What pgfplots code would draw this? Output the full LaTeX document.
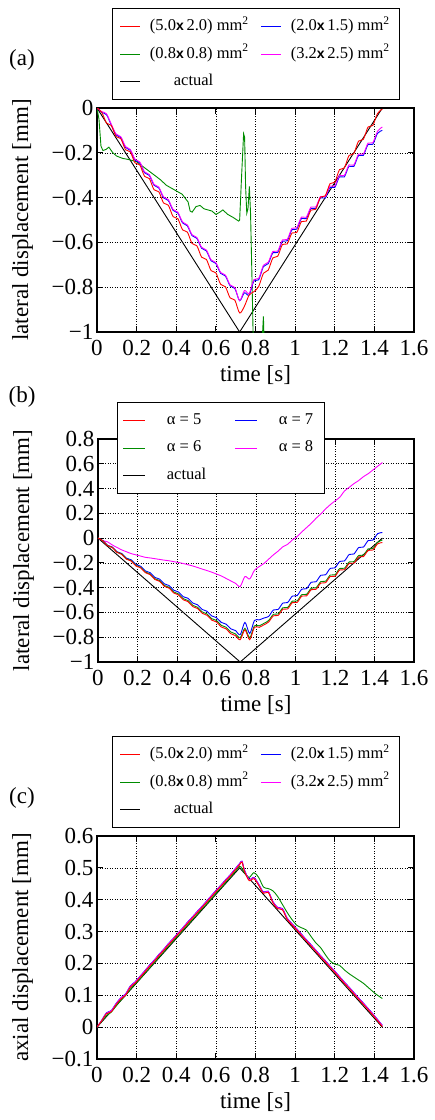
\documentclass[border=0pt]{standalone}
\usepackage{fontspec}
\setmainfont{Liberation Serif}
\newfontfamily\sansx{Liberation Sans}
\usepackage{pgfplots}
\usepackage{pgfplotstable}
\pgfplotsset{compat=1.18}
\definecolor{gpgreen}{RGB}{0,140,0}
\definecolor{gpred}{RGB}{255,0,0}
\definecolor{gpblue}{RGB}{0,0,255}
\definecolor{gpmag}{RGB}{255,0,255}
\newcommand{\tk}{\fontsize{23}{27}\selectfont}
\newcommand{\lgf}{\fontsize{16.5}{19}\selectfont}
\newcommand{\sz}[2]{(#1{\sansx\bfseries\fontsize{14}{16}\selectfont x}\,#2) mm\textsuperscript{2}}

% (a) lateral displacement, mesh sizes
\pgfplotstableread{
t r b m
0 0 0 0
0.024 -0.019 -0.020 -0.016
0.048 -0.067 -0.030 -0.026
0.072 -0.078 -0.076 -0.072
0.096 -0.127 -0.120 -0.116
0.120 -0.137 -0.132 -0.128
0.144 -0.186 -0.176 -0.172
0.168 -0.196 -0.189 -0.185
0.192 -0.245 -0.233 -0.229
0.216 -0.254 -0.245 -0.241
0.240 -0.305 -0.289 -0.285
0.264 -0.315 -0.301 -0.297
0.288 -0.365 -0.345 -0.341
0.312 -0.374 -0.357 -0.353
0.336 -0.424 -0.401 -0.397
0.360 -0.434 -0.413 -0.409
0.384 -0.485 -0.457 -0.453
0.408 -0.494 -0.469 -0.465
0.432 -0.544 -0.513 -0.509
0.456 -0.554 -0.526 -0.522
0.480 -0.605 -0.570 -0.566
0.504 -0.615 -0.582 -0.578
0.528 -0.666 -0.626 -0.622
0.552 -0.676 -0.638 -0.634
0.576 -0.726 -0.682 -0.678
0.600 -0.736 -0.694 -0.690
0.624 -0.787 -0.738 -0.734
0.648 -0.798 -0.750 -0.746
0.672 -0.848 -0.794 -0.790
0.696 -0.858 -0.806 -0.802
0.720 -0.915 -0.860 -0.860
0.744 -0.885 -0.825 -0.815
0.768 -0.835 -0.835 -0.828
0.792 -0.820 -0.772 -0.766
0.816 -0.797 -0.767 -0.761
0.840 -0.738 -0.708 -0.702
0.864 -0.724 -0.695 -0.689
0.888 -0.669 -0.646 -0.640
0.912 -0.662 -0.645 -0.639
0.936 -0.609 -0.595 -0.589
0.960 -0.607 -0.593 -0.587
0.984 -0.558 -0.543 -0.537
1.008 -0.556 -0.541 -0.535
1.032 -0.507 -0.493 -0.487
1.056 -0.505 -0.494 -0.488
1.080 -0.456 -0.448 -0.442
1.104 -0.452 -0.448 -0.442
1.128 -0.398 -0.401 -0.395
1.152 -0.392 -0.402 -0.396
1.176 -0.338 -0.354 -0.348
1.200 -0.331 -0.355 -0.349
1.224 -0.275 -0.307 -0.301
1.248 -0.268 -0.308 -0.302
1.272 -0.212 -0.260 -0.254
1.296 -0.204 -0.261 -0.255
1.320 -0.148 -0.212 -0.206
1.344 -0.140 -0.212 -0.206
1.368 -0.085 -0.163 -0.157
1.392 -0.078 -0.162 -0.155
1.416 -0.024 -0.113 -0.104
1.440 -0.005 -0.100 -0.085
}\tabA

\pgfplotstableread{
t g
0 0
0.010 -0.050
0.020 -0.170
0.030 -0.190
0.045 -0.185
0.060 -0.175
0.080 -0.200
0.100 -0.215
0.130 -0.225
0.160 -0.230
0.200 -0.240
0.230 -0.260
0.260 -0.280
0.290 -0.300
0.320 -0.320
0.350 -0.345
0.380 -0.360
0.400 -0.370
0.430 -0.385
0.460 -0.420
0.470 -0.460
0.480 -0.465
0.500 -0.440
0.520 -0.435
0.540 -0.450
0.560 -0.455
0.580 -0.460
0.600 -0.475
0.620 -0.465
0.635 -0.455
0.660 -0.475
0.690 -0.490
0.715 -0.505
0.720 -0.500
0.730 -0.300
0.740 -0.115
0.745 -0.130
0.750 -0.350
0.756 -0.470
0.762 -0.450
0.769 -0.350
0.775 -0.470
0.782 -0.750
0.790 -1.100
0.810 -1.300
0.830 -1.100
0.840 -0.930
0.845 -1.100
0.860 -1.300
}\tabAg

% (b) lateral displacement, alpha
\pgfplotstableread{
t r g b m
0 0 0 0 0
0.024 -0.021 -0.021 -0.020 -0.020
0.048 -0.061 -0.060 -0.058 -0.030
0.072 -0.076 -0.074 -0.072 -0.055
0.096 -0.115 -0.113 -0.110 -0.075
0.120 -0.131 -0.128 -0.124 -0.095
0.144 -0.170 -0.167 -0.162 -0.110
0.168 -0.185 -0.182 -0.175 -0.125
0.192 -0.225 -0.221 -0.213 -0.135
0.216 -0.240 -0.236 -0.227 -0.145
0.240 -0.279 -0.274 -0.265 -0.155
0.264 -0.295 -0.290 -0.279 -0.160
0.288 -0.334 -0.328 -0.317 -0.166
0.312 -0.349 -0.343 -0.331 -0.172
0.336 -0.389 -0.382 -0.369 -0.178
0.360 -0.404 -0.397 -0.383 -0.183
0.384 -0.443 -0.435 -0.421 -0.190
0.408 -0.459 -0.451 -0.435 -0.197
0.432 -0.498 -0.489 -0.473 -0.205
0.456 -0.513 -0.504 -0.486 -0.215
0.480 -0.553 -0.543 -0.524 -0.225
0.504 -0.568 -0.558 -0.538 -0.237
0.528 -0.607 -0.596 -0.576 -0.250
0.552 -0.623 -0.612 -0.590 -0.262
0.576 -0.662 -0.650 -0.628 -0.275
0.600 -0.677 -0.665 -0.642 -0.290
0.624 -0.717 -0.704 -0.680 -0.305
0.648 -0.732 -0.719 -0.694 -0.325
0.672 -0.771 -0.757 -0.732 -0.345
0.696 -0.787 -0.773 -0.746 -0.365
0.720 -0.820 -0.805 -0.780 -0.390
0.744 -0.740 -0.728 -0.680 -0.310
0.768 -0.820 -0.805 -0.770 -0.330
0.792 -0.720 -0.708 -0.665 -0.260
0.816 -0.720 -0.708 -0.660 -0.230
0.840 -0.700 -0.688 -0.645 -0.205
0.864 -0.677 -0.665 -0.632 -0.170
0.888 -0.627 -0.615 -0.580 -0.135
0.912 -0.624 -0.612 -0.576 -0.105
0.936 -0.574 -0.562 -0.524 -0.070
0.960 -0.572 -0.560 -0.520 -0.050
0.984 -0.521 -0.509 -0.468 -0.015
1.008 -0.519 -0.507 -0.464 0.012
1.032 -0.468 -0.456 -0.412 0.050
1.056 -0.466 -0.454 -0.408 0.085
1.080 -0.416 -0.404 -0.356 0.120
1.104 -0.413 -0.401 -0.352 0.160
1.128 -0.363 -0.351 -0.300 0.195
1.152 -0.360 -0.348 -0.296 0.235
1.176 -0.310 -0.298 -0.244 0.270
1.200 -0.308 -0.296 -0.240 0.300
1.224 -0.257 -0.245 -0.188 0.330
1.248 -0.255 -0.243 -0.184 0.380
1.272 -0.204 -0.192 -0.132 0.410
1.296 -0.202 -0.190 -0.128 0.440
1.320 -0.152 -0.140 -0.076 0.465
1.344 -0.149 -0.137 -0.072 0.496
1.368 -0.099 -0.087 -0.020 0.520
1.392 -0.096 -0.084 -0.016 0.550
1.416 -0.046 -0.034 0.036 0.580
1.440 -0.036 -0.015 0.045 0.610
}\tabB

% (c) axial displacement, mesh sizes
\pgfplotstableread{
t r g b m
0 0 0 0 0
0.024 0.020 0.018 0.022 0.021
0.048 0.042 0.036 0.045 0.044
0.072 0.048 0.047 0.052 0.051
0.096 0.070 0.066 0.074 0.073
0.120 0.088 0.084 0.092 0.091
0.144 0.100 0.100 0.104 0.103
0.168 0.125 0.119 0.129 0.128
0.192 0.138 0.135 0.142 0.141
0.216 0.155 0.151 0.159 0.158
0.240 0.172 0.168 0.176 0.175
0.264 0.190 0.185 0.194 0.193
0.288 0.206 0.202 0.210 0.209
0.312 0.224 0.219 0.228 0.227
0.336 0.240 0.236 0.244 0.243
0.360 0.258 0.253 0.262 0.261
0.384 0.274 0.270 0.278 0.277
0.408 0.291 0.286 0.295 0.294
0.432 0.307 0.303 0.311 0.310
0.456 0.325 0.320 0.329 0.328
0.480 0.341 0.336 0.345 0.344
0.504 0.358 0.353 0.362 0.361
0.528 0.374 0.370 0.378 0.377
0.552 0.391 0.386 0.395 0.394
0.576 0.408 0.403 0.412 0.411
0.600 0.425 0.420 0.429 0.428
0.624 0.441 0.436 0.445 0.444
0.648 0.458 0.453 0.462 0.461
0.672 0.474 0.470 0.478 0.477
0.696 0.492 0.487 0.496 0.495
0.720 0.510 0.505 0.514 0.513
0.732 0.518 0.498 0.521 0.520
0.744 0.490 0.485 0.494 0.493
0.768 0.460 0.470 0.464 0.463
0.792 0.466 0.485 0.470 0.469
0.816 0.445 0.470 0.449 0.448
0.840 0.420 0.440 0.424 0.423
0.864 0.423 0.435 0.427 0.426
0.888 0.390 0.428 0.394 0.393
0.912 0.372 0.410 0.376 0.375
0.936 0.368 0.385 0.372 0.371
0.960 0.338 0.360 0.342 0.341
0.984 0.321 0.338 0.325 0.324
1.008 0.305 0.320 0.309 0.308
1.032 0.288 0.312 0.292 0.291
1.056 0.271 0.305 0.275 0.274
1.080 0.255 0.285 0.259 0.258
1.104 0.238 0.265 0.242 0.241
1.128 0.221 0.250 0.225 0.224
1.152 0.205 0.228 0.209 0.208
1.176 0.188 0.208 0.192 0.191
1.200 0.172 0.198 0.176 0.175
1.224 0.155 0.194 0.159 0.158
1.248 0.138 0.180 0.142 0.141
1.272 0.122 0.168 0.126 0.125
1.296 0.105 0.158 0.109 0.108
1.320 0.088 0.148 0.092 0.091
1.344 0.072 0.138 0.076 0.075
1.368 0.055 0.125 0.059 0.058
1.392 0.038 0.112 0.042 0.041
1.416 0.020 0.100 0.024 0.023
1.440 0.002 0.090 0.006 0.005
}\tabC

\pgfplotsset{
  gp/.style={
    scale only axis, width=317pt,
    xmin=0, xmax=1.6,
    axis line style={line width=1.2pt},
    tick style={line width=0.8pt, black},
    major tick length=6pt,
    tick align=inside,
    grid=major,
    major grid style={dash pattern=on 1pt off 1.5pt, line width=0.6pt, black},
    tick label style={font=\tk},
    xtick={0,0.2,0.4,0.6,0.8,1,1.2,1.4,1.6},
    xticklabels={0,0.2,0.4,0.6,0.8,1,1.2,1.4,1.6},
    xticklabel style={yshift=-5pt},
    xlabel={time [s]},
    every axis x label/.style={at={([yshift=-43pt]axis description cs:0.5,0)}, anchor=center, font=\tk},
    every axis y label/.style={at={([xshift=-74.5pt]axis description cs:0,0.5)}, rotate=90, anchor=center, font=\tk},
    every axis plot/.append style={line width=0.9pt},
    legend columns=2,
    legend cell align=left,
    legend style={draw=black, line width=1pt, fill=white, anchor=north west,
      font=\lgf, inner ysep=10pt, row sep=11.5pt,
      nodes={inner xsep=3pt, inner ysep=0pt, text height=12pt, text depth=4pt}},
  },
  lega/.style={
    legend image code/.code={\draw[##1, line width=0.9pt] (0pt,0pt) -- (20pt,0pt);},
    legend style={inner xsep=7.5pt,
      /tikz/every odd column/.append style={column sep=6pt},
      /tikz/every even column/.append style={column sep=6pt}},
  },
  legb/.style={
    legend image code/.code={\draw[##1, line width=0.9pt] (0pt,0pt) -- (22pt,0pt);},
    legend style={inner xsep=5.5pt,
      /tikz/every odd column/.append style={column sep=18pt},
      /tikz/every even column/.append style={column sep=5pt}},
  },
}

\begin{document}
\begin{tikzpicture}
\useasboundingbox (0,0) rectangle (435pt,-1120pt);
\node[font=\tk] at (22pt,-60pt) {(a)};
\node[font=\tk] at (22pt,-397pt) {(b)};
\node[font=\tk] at (22pt,-798pt) {(c)};

\begin{axis}[gp, lega, at={(97pt,-108pt)}, anchor=north west, height=224pt,
  ymin=-1, ymax=0,
  ytick={-1,-0.8,-0.6,-0.4,-0.2,0},
  yticklabels={−1,−0.8,−0.6,−0.4,−0.2,0},
  ylabel={lateral displacement [mm]},
  legend style={at={(0.0473,1.4464)}}]
\addlegendimage{gpred}\addlegendentry{\makebox[102pt][l]{\sz{5.0}{2.0}}}
\addlegendimage{gpblue}\addlegendentry{\makebox[98pt][l]{\sz{2.0}{1.5}}}
\addlegendimage{gpgreen}\addlegendentry{\makebox[102pt][l]{\sz{0.8}{0.8}}}
\addlegendimage{gpmag}\addlegendentry{\makebox[98pt][l]{\sz{3.2}{2.5}}}
\addlegendimage{black}\addlegendentry{\makebox[102pt][l]{\hspace*{24pt}actual}}
\addplot[black, forget plot] coordinates {(0,0) (0.72,-1) (1.44,0)};
\addplot[gpgreen, forget plot] table[x=t, y=g] {\tabAg};
\addplot[gpblue, smooth, forget plot] table[x=t, y=b] {\tabA};
\addplot[gpmag, smooth, forget plot] table[x=t, y=m] {\tabA};
\addplot[gpred, smooth, forget plot] table[x=t, y=r] {\tabA};
\end{axis}

\begin{axis}[gp, legb, at={(98pt,-439pt)}, anchor=north west, width=316pt, height=223pt,
  ymin=-1, ymax=0.8,
  ytick={-1,-0.8,-0.6,-0.4,-0.2,0,0.2,0.4,0.6,0.8},
  yticklabels={−1,−0.8,−0.6,−0.4,−0.2,0,0.2,0.4,0.6,0.8},
  ylabel={lateral displacement [mm]},
  legend style={at={(0.0601,1.166)}}]
\addlegendimage{gpred}\addlegendentry{\makebox[60pt][l]{α = 5}}
\addlegendimage{gpblue}\addlegendentry{\makebox[37pt][l]{α = 7}}
\addlegendimage{gpgreen}\addlegendentry{\makebox[60pt][l]{α = 6}}
\addlegendimage{gpmag}\addlegendentry{\makebox[37pt][l]{α = 8}}
\addlegendimage{black}\addlegendentry{\makebox[60pt][l]{actual}}
\addplot[black, forget plot] coordinates {(0,0) (0.72,-1) (1.44,0)};
\addplot[gpmag, smooth, forget plot] table[x=t, y=m] {\tabB};
\addplot[gpblue, smooth, forget plot] table[x=t, y=b] {\tabB};
\addplot[gpgreen, smooth, forget plot] table[x=t, y=g] {\tabB};
\addplot[gpred, smooth, forget plot] table[x=t, y=r] {\tabB};
\end{axis}

\begin{axis}[gp, lega, at={(97pt,-836pt)}, anchor=north west, height=223pt,
  ymin=-0.1, ymax=0.6,
  ytick={-0.1,0,0.1,0.2,0.3,0.4,0.5,0.6},
  yticklabels={−0.1,0,0.1,0.2,0.3,0.4,0.5,0.6},
  ylabel={axial displacement [mm]},
  legend style={at={(0.0473,1.448)}}]
\addlegendimage{gpred}\addlegendentry{\makebox[102pt][l]{\sz{5.0}{2.0}}}
\addlegendimage{gpblue}\addlegendentry{\makebox[98pt][l]{\sz{2.0}{1.5}}}
\addlegendimage{gpgreen}\addlegendentry{\makebox[102pt][l]{\sz{0.8}{0.8}}}
\addlegendimage{gpmag}\addlegendentry{\makebox[98pt][l]{\sz{3.2}{2.5}}}
\addlegendimage{black}\addlegendentry{\makebox[102pt][l]{\hspace*{24pt}actual}}
\addplot[black, forget plot] coordinates {(0,0) (0.72,0.5) (1.44,0)};
\addplot[gpgreen, smooth, forget plot] table[x=t, y=g] {\tabC};
\addplot[gpblue, smooth, forget plot] table[x=t, y=b] {\tabC};
\addplot[gpmag, smooth, forget plot] table[x=t, y=m] {\tabC};
\addplot[gpred, smooth, forget plot] table[x=t, y=r] {\tabC};
\end{axis}
\end{tikzpicture}
\end{document}
